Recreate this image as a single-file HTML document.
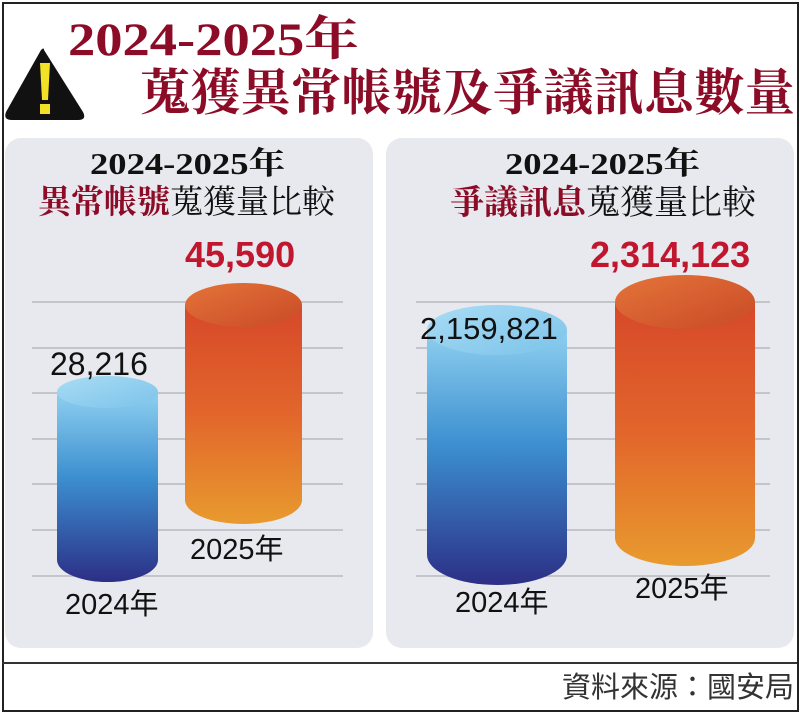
<!DOCTYPE html>
<html><head><meta charset="utf-8"><style>
body{margin:0;background:#fff;}
#c{position:relative;width:800px;height:713px;overflow:hidden;background:#fff;font-family:"Liberation Sans","Noto Sans CJK TC",sans-serif;}
.t{position:absolute;white-space:nowrap;line-height:1;}
.serif{font-family:"Liberation Serif","Noto Serif CJK SC",serif;font-weight:bold;}
.red{color:#8c0b26;}
.sx{transform-origin:left top;}
</style></head><body><div id="c">
<div style="position:absolute;left:2px;top:2px;width:793px;height:706px;border:2px solid #222;"></div>
<div style="position:absolute;left:2px;top:662px;width:795px;height:2px;background:#333;"></div>
<div style="position:absolute;left:5px;top:138px;width:368px;height:510px;background:#e8e9ee;border-radius:16px;"></div>
<div style="position:absolute;left:386px;top:138px;width:408px;height:510px;background:#e8e9ee;border-radius:16px;"></div>
<svg width="800" height="713" style="position:absolute;left:0;top:0">
<defs>
<linearGradient id="b" x1="0" y1="0" x2="0" y2="1"><stop offset="0" stop-color="#8fd0f0"/><stop offset="0.45" stop-color="#3c8fd0"/><stop offset="1" stop-color="#2c2f86"/></linearGradient>
<linearGradient id="o" x1="0" y1="0" x2="0" y2="1"><stop offset="0" stop-color="#d6482a"/><stop offset="0.5" stop-color="#e2662b"/><stop offset="1" stop-color="#e89a2e"/></linearGradient>
<linearGradient id="bt" x1="0" y1="0" x2="1" y2="1"><stop offset="0" stop-color="#a9dcf4"/><stop offset="1" stop-color="#7cc3ea"/></linearGradient>
<linearGradient id="ot" x1="0" y1="0" x2="1" y2="1"><stop offset="0" stop-color="#e4743a"/><stop offset="1" stop-color="#c94a26"/></linearGradient>
</defs>
<g stroke="#c4c5cb" stroke-width="2">
<line x1="32" x2="343" y1="302" y2="302"/><line x1="32" x2="343" y1="348" y2="348"/><line x1="32" x2="343" y1="393" y2="393"/><line x1="32" x2="343" y1="439" y2="439"/><line x1="32" x2="343" y1="484" y2="484"/><line x1="32" x2="343" y1="530" y2="530"/><line x1="32" x2="343" y1="576" y2="576"/>
<line x1="416" x2="770" y1="302" y2="302"/><line x1="416" x2="770" y1="348" y2="348"/><line x1="416" x2="770" y1="393" y2="393"/><line x1="416" x2="770" y1="439" y2="439"/><line x1="416" x2="770" y1="484" y2="484"/><line x1="416" x2="770" y1="530" y2="530"/><line x1="416" x2="770" y1="576" y2="576"/>
</g>
<path d="M57 392 L57 560 A50.5 22 0 0 0 158 560 L158 392 Z" fill="url(#b)"/>
<ellipse cx="107.5" cy="392" rx="50.5" ry="16" fill="url(#bt)"/>
<path d="M185 305 L185 500 A58.5 24 0 0 0 302 500 L302 305 Z" fill="url(#o)"/>
<ellipse cx="243.5" cy="305" rx="58.5" ry="22" fill="url(#ot)"/>
<path d="M427 330 L427 555 A70 30 0 0 0 567 555 L567 330 Z" fill="url(#b)"/>
<ellipse cx="497" cy="330" rx="70" ry="25" fill="url(#bt)"/>
<path d="M615 302 L615 538 A70 28 0 0 0 755 538 L755 302 Z" fill="url(#o)"/>
<ellipse cx="685" cy="302" rx="70" ry="27" fill="url(#ot)"/>
<path d="M44 50 Q44 47 41 50 L6 112 Q3 120 12 120 L78 120 Q87 120 83 112 Z" fill="#111"/>
<path d="M40 63 L50 63 L48 100 L42 100 Z" fill="#f2e227"/><rect x="40" y="104" width="10" height="10" fill="#f2e227"/>
</svg>
<div class="t serif red sx" style="left:68px;top:17px;font-size:47px;transform:scaleX(1.16);">2024-2025年</div>
<div class="t serif red" style="left:140px;top:68px;font-size:50px;letter-spacing:0.4px;">蒐獲異常帳號及爭議訊息數量</div>
<div class="t serif sx" style="left:90px;top:148px;font-size:31px;color:#111;transform:scaleX(1.18);">2024-2025年</div>
<div class="t serif" style="left:38px;top:187px;font-size:33px;color:#111;font-weight:normal;"><b class="red">異常帳號</b>蒐獲量比較</div>
<div class="t serif sx" style="left:505px;top:148px;font-size:31px;color:#111;transform:scaleX(1.18);">2024-2025年</div>
<div class="t serif" style="left:450px;top:187px;font-size:34px;color:#111;font-weight:normal;"><b class="red">爭議訊息</b>蒐獲量比較</div>
<div class="t" style="left:50px;top:348px;font-size:32px;color:#111;">28,216</div>
<div class="t red" style="left:185px;top:237px;font-size:36px;font-weight:bold;color:#c0162e;">45,590</div>
<div class="t" style="left:420px;top:313px;font-size:31px;color:#111;">2,159,821</div>
<div class="t" style="left:590px;top:237px;font-size:36px;font-weight:bold;color:#c0162e;">2,314,123</div>
<div class="t" style="left:65px;top:591px;font-size:29px;color:#111;">2024年</div>
<div class="t" style="left:190px;top:536px;font-size:29px;color:#111;">2025年</div>
<div class="t" style="left:455px;top:589px;font-size:29px;color:#111;">2024年</div>
<div class="t" style="left:635px;top:575px;font-size:29px;color:#111;">2025年</div>
<div class="t" style="left:562px;top:674px;font-size:29px;color:#333;">資料來源：國安局</div>
</div></body></html>
